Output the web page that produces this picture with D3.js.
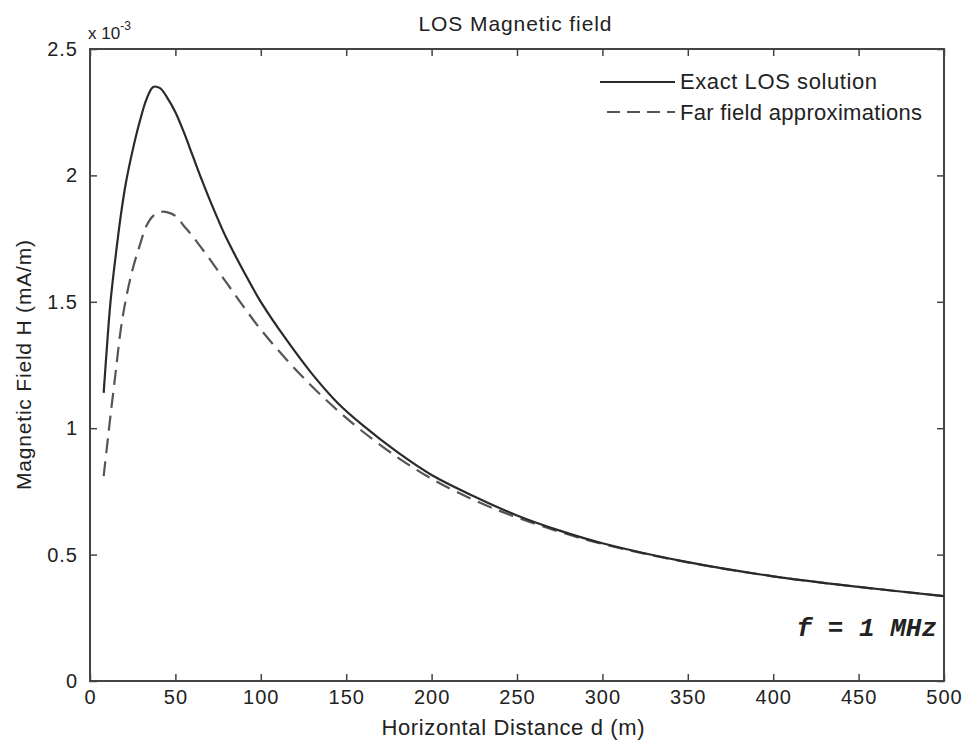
<!DOCTYPE html>
<html>
<head>
<meta charset="utf-8">
<script src="https://cdn.jsdelivr.net/npm/d3@7"></script>
<style>
  html, body { margin: 0; padding: 0; background: #fff; }
  svg { display: block; }
  text { font-family: "Liberation Sans", Arial, sans-serif; fill: #222; }
</style>
</head>
<body>
<svg id="chart" width="966" height="743"></svg>
<script>
// ---- data (values in units of 1e-3 mA/m) ----
const distance = [8, 10, 12, 15, 18, 21, 25, 29, 33, 37, 41, 45, 50, 55, 60, 65, 70, 75, 80, 90, 100, 115, 130, 145, 160, 180, 200, 225, 250, 275, 300, 350, 400, 450, 500];
const exactLOS = [1.14, 1.33, 1.50, 1.68, 1.84, 1.97, 2.10, 2.21, 2.30, 2.35, 2.345, 2.31, 2.25, 2.17, 2.08, 1.99, 1.905, 1.825, 1.75, 1.62, 1.50, 1.35, 1.215, 1.10, 1.01, 0.905, 0.815, 0.73, 0.655, 0.595, 0.545, 0.47, 0.414, 0.372, 0.336];
const farField = [0.81, 0.93, 1.05, 1.22, 1.39, 1.51, 1.63, 1.72, 1.80, 1.84, 1.855, 1.855, 1.84, 1.80, 1.76, 1.715, 1.67, 1.622, 1.575, 1.48, 1.39, 1.272, 1.165, 1.07, 0.985, 0.885, 0.80, 0.715, 0.647, 0.59, 0.542, 0.469, 0.414, 0.372, 0.336];
const xTicks = [0, 50, 100, 150, 200, 250, 300, 350, 400, 450, 500];
const yTicks = [0, 0.5, 1, 1.5, 2, 2.5];
const seriesNames = ["Exact LOS solution", "Far field approximations"];
const titleText = "LOS Magnetic field";
const xLabel = "Horizontal Distance  d (m)";
const yLabel = "Magnetic Field  H (mA/m)";
const annotation = "f = 1 MHz";

const svg = d3.select("#chart");
const L = 90, R = 944, T = 49, B = 681;

const x = d3.scaleLinear().domain([0, 500]).range([L, R]);
const y = d3.scaleLinear().domain([0, 2.5]).range([B, T]);

const axisColor = "#444";

// frame
svg.append("rect").attr("x", L).attr("y", T).attr("width", R - L).attr("height", B - T)
  .attr("fill", "none").attr("stroke", axisColor).attr("stroke-width", 2);

// axes with inward ticks
const xAxis = svg.append("g").attr("transform", `translate(0,${B})`)
  .call(d3.axisBottom(x).tickValues(xTicks).tickSize(-7).tickPadding(9).tickFormat(d3.format("d")));
const xAxisTop = svg.append("g").attr("transform", `translate(0,${T})`)
  .call(d3.axisTop(x).tickValues(xTicks).tickSize(-7).tickFormat(""));
const yAxis = svg.append("g").attr("transform", `translate(${L},0)`)
  .call(d3.axisLeft(y).tickValues(yTicks).tickSize(-7).tickPadding(12).tickFormat(d => String(d)));
const yAxisRight = svg.append("g").attr("transform", `translate(${R},0)`)
  .call(d3.axisRight(y).tickValues(yTicks).tickSize(-7).tickFormat(""));

[xAxis, xAxisTop, yAxis, yAxisRight].forEach(g => {
  g.select(".domain").remove();
  g.selectAll(".tick line").attr("stroke", axisColor).attr("stroke-width", 1.5);
  g.selectAll(".tick text").attr("fill", "#222").style("font-size", "20px")
    .style("letter-spacing", "1px")
    .style("font-family", "'Liberation Sans', Arial, sans-serif");
});

// exponent label
const expo = svg.append("text").attr("x", 88).attr("y", 39).style("font-size", "17px");
expo.append("tspan").text("x 10");
expo.append("tspan").attr("dy", -9).style("font-size", "12px").text("-3");

// title
svg.append("text").attr("x", 515).attr("y", 31).attr("text-anchor", "middle")
  .style("font-size", "21px").attr("textLength", 193).attr("lengthAdjust", "spacing").text(titleText);

// axis labels
svg.append("text").attr("x", 513).attr("y", 735).attr("text-anchor", "middle")
  .style("font-size", "22px").attr("textLength", 263).attr("lengthAdjust", "spacing").text(xLabel);
svg.append("text").attr("transform", `translate(31,${365}) rotate(-90)`).attr("text-anchor", "middle")
  .style("font-size", "21px").attr("textLength", 250).attr("lengthAdjust", "spacing").text(yLabel);

// lines
const idx = d3.range(distance.length);
const lineExact = d3.line().x(i => x(distance[i])).y(i => y(exactLOS[i])).curve(d3.curveCatmullRom.alpha(0.5));
const lineFar = d3.line().x(i => x(distance[i])).y(i => y(farField[i])).curve(d3.curveCatmullRom.alpha(0.5));

svg.append("path").attr("d", lineFar(idx)).attr("fill", "none")
  .attr("stroke", "#555").attr("stroke-width", 2.2).attr("stroke-dasharray", "15,8");
svg.append("path").attr("d", lineExact(idx)).attr("fill", "none")
  .attr("stroke", "#2a2a2a").attr("stroke-width", 2.2);

// legend
const leg = svg.append("g");
leg.append("line").attr("x1", 600).attr("x2", 675).attr("y1", 82).attr("y2", 82)
  .attr("stroke", "#2a2a2a").attr("stroke-width", 2);
leg.append("text").attr("x", 680).attr("y", 89).style("font-size", "22px")
  .attr("textLength", 197).attr("lengthAdjust", "spacing").text(seriesNames[0]);
leg.append("line").attr("x1", 607).attr("x2", 675).attr("y1", 112).attr("y2", 112)
  .attr("stroke", "#555").attr("stroke-width", 2).attr("stroke-dasharray", "13,7");
leg.append("text").attr("x", 680).attr("y", 120).style("font-size", "22px")
  .attr("textLength", 242).attr("lengthAdjust", "spacing").text(seriesNames[1]);

// annotation
svg.append("text").attr("x", 937).attr("y", 636).attr("text-anchor", "end")
  .style("font-family", "'Liberation Mono', 'Courier New', monospace")
  .style("font-weight", "bold").style("font-style", "italic").style("font-size", "26px")
  .text(annotation);
</script>
</body>
</html>
